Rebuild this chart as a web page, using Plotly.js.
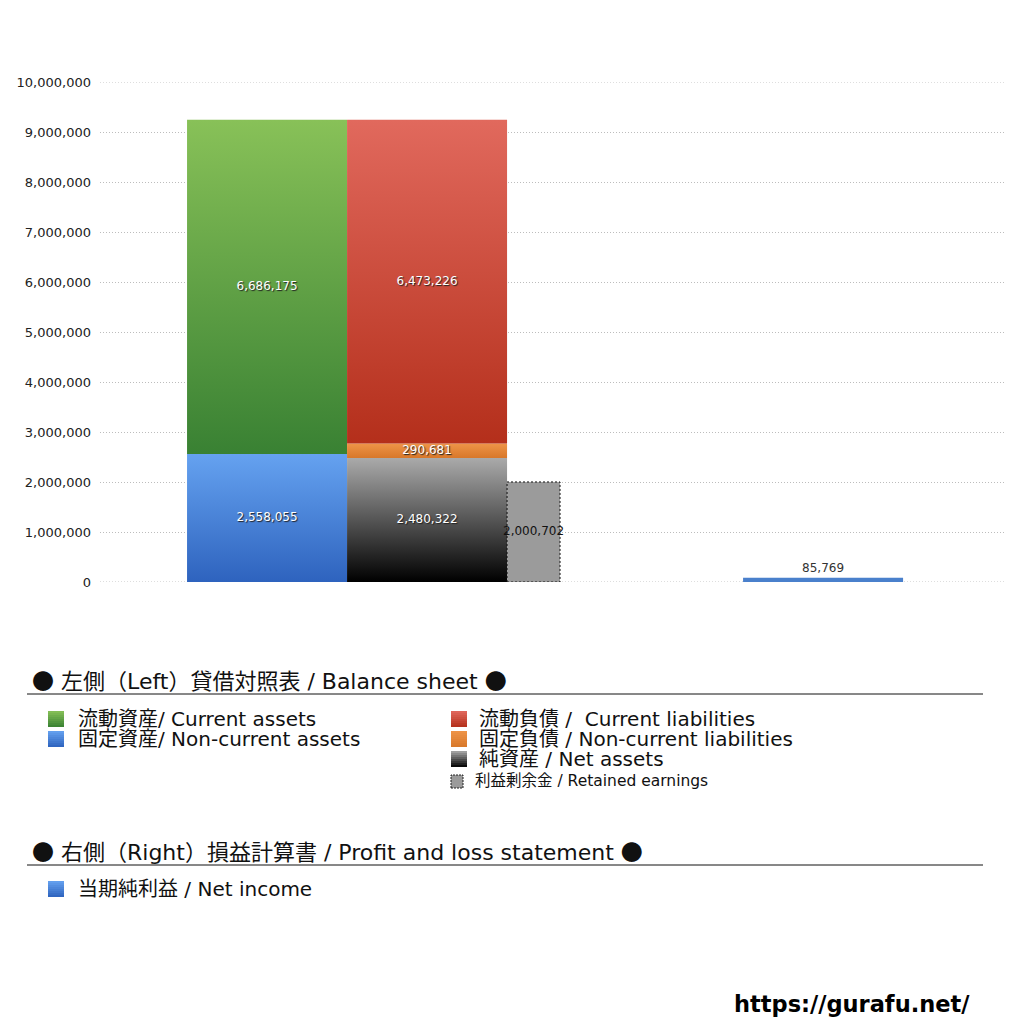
<!DOCTYPE html>
<html>
<head>
<meta charset="utf-8">
<script src="https://cdn.plot.ly/plotly-3.0.1.min.js"></script>
<style>
  html, body { margin: 0; padding: 0; background: #fff; }
  #plot { width: 1024px; height: 1024px; }
</style>
</head>
<body>
<div id="plot"></div>
<script>
// values
const assetNames = ["固定資産/ Non-current assets", "流動資産/ Current assets"];
const assetValues = [2558055, 6686175];

const liabNames = ["純資産 / Net assets", "固定負債 / Non-current liabilities", "流動負債 /  Current liabilities"];
const liabValues = [2480322, 290681, 6473226];

const retainedName = "利益剰余金 / Retained earnings";
const retainedValue = 2000702;

const incomeName = "当期純利益 / Net income";
const incomeValue = 85769;

const yMax = 10000000;

// bar slots on the x axis (one unit = one bar width)
const xRange = [0, 5.656];
const slotAssets = [0.544, 1.544];
const slotLiab = [1.544, 2.544];
const slotRetained = [2.544, 2.875];
const slotIncome = [4.019, 5.019];

// gradients bottom -> top
const assetGrad = [
  ["#2e63be", "#65a2f0"],
  ["#398133", "#88c158"]
];
const liabGrad = [
  ["#000000", "#aaaaaa"],
  ["#d8782a", "#ee9448"],
  ["#b42f1b", "#e1695d"]
];

const fmt = v => v.toLocaleString("en-US");
const font = "'DejaVu Sans', 'Noto Sans CJK JP', sans-serif";
const cjk = "'Noto Sans CJK JP'";

const traces = [];
const labelX = [], labelY = [], labelT = [];

function addStack(slot, names, values, grads) {
  let base = 0;
  values.forEach((v, i) => {
    const top = base + v;
    traces.push({
      type: "scatter",
      mode: "lines",
      name: names[i],
      x: [slot[0], slot[1], slot[1], slot[0], slot[0]],
      y: [base, base, top, top, base],
      fill: "toself",
      line: { width: 0 },
      fillgradient: { type: "vertical", colorscale: [[0, grads[i][0]], [1, grads[i][1]]] },
      hoverinfo: "skip",
      showlegend: false
    });
    labelX.push((slot[0] + slot[1]) / 2);
    labelY.push(base + v / 2);
    labelT.push(fmt(v));
    base = top;
  });
}

addStack(slotAssets, assetNames, assetValues, assetGrad);
addStack(slotLiab, liabNames, liabValues, liabGrad);

traces.push({
  type: "scatter",
  mode: "text",
  x: labelX,
  y: labelY,
  text: labelT,
  textposition: "middle center",
  textfont: { family: font, size: 12, color: "#ffffff", shadow: "1px 1px 1px #222" },
  hoverinfo: "skip",
  showlegend: false
});

// retained earnings, dotted outline
traces.push({
  type: "scatter",
  mode: "lines",
  name: retainedName,
  x: [slotRetained[0], slotRetained[1], slotRetained[1], slotRetained[0], slotRetained[0]],
  y: [0, 0, retainedValue, retainedValue, 0],
  fill: "toself",
  fillcolor: "#9b9b9b",
  line: { color: "#111", width: 1, dash: "2px,2px" },
  hoverinfo: "skip",
  showlegend: false
});
traces.push({
  type: "scatter",
  mode: "text",
  x: [(slotRetained[0] + slotRetained[1]) / 2],
  y: [retainedValue / 2],
  text: [fmt(retainedValue)],
  textfont: { family: font, size: 12, color: "#111" },
  hoverinfo: "skip",
  showlegend: false
});

// net income
traces.push({
  type: "bar",
  name: incomeName,
  x: [(slotIncome[0] + slotIncome[1]) / 2],
  y: [incomeValue],
  width: [slotIncome[1] - slotIncome[0]],
  marker: { color: "#4a80cc", line: { width: 0 } },
  text: [fmt(incomeValue)],
  textposition: "outside",
  cliponaxis: false,
  textfont: { family: font, size: 12, color: "#333" },
  hoverinfo: "skip",
  showlegend: false
});

// pixel -> paper helpers for the legend block below the plot
const L = 100, R = 19, T = 82, B = 442;
const W = 1024 - L - R, H = 1024 - T - B;
const px = x => (x - L) / W;
const py = y => (1024 - B - y) / H;

const shapes = [];
const annotations = [];

// plotly drops the grid lines on the range ends, so draw those two here
[0, yMax].forEach(v => {
  shapes.push({
    type: "line", xref: "paper", yref: "y", x0: 0, x1: 1, y0: v, y1: v,
    line: { color: "#bdbdbd", width: 1, dash: "1px,2px" }, layer: "below"
  });
});

function note(x, y, text, size, extra) {
  annotations.push(Object.assign({
    xref: "paper", yref: "paper", x: px(x - 3), y: py(y),
    xanchor: "left", yanchor: "middle", showarrow: false,
    text: text, font: { family: font, size: size, color: "#111" }
  }, extra || {}));
}
function hex(c) { return [1, 3, 5].map(k => parseInt(c.slice(k, k + 2), 16)); }
// small legend swatch with a vertical shade
function box(x, y, s, grad) {
  const lo = hex(grad[0]), hi = hex(grad[1]);
  const n = 8;
  for (let k = 0; k < n; k++) {
    const t = 1 - (k + 0.5) / n;
    const c = lo.map((v, j) => Math.round(v + (hi[j] - v) * t));
    shapes.push({
      type: "rect", xref: "paper", yref: "paper",
      x0: px(x), x1: px(x + s), y0: py(y + s * (k + 1) / n), y1: py(y + s * k / n),
      fillcolor: "rgb(" + c.join(",") + ")", line: { width: 0 }
    });
  }
}
function rule(y) {
  shapes.push({
    type: "line", xref: "paper", yref: "paper",
    x0: px(27), x1: px(983), y0: py(y), y1: py(y),
    line: { color: "#111", width: 1 }
  });
}
const dot = '<span style="font-family:' + cjk + '">●</span>';

note(33, 679, dot + " 左側（Left）貸借対照表 / Balance sheet " + dot, 22);
rule(694);
box(48, 711, 16, assetGrad[1]);
note(79, 719, assetNames[1], 20);
box(48, 731, 16, assetGrad[0]);
note(79, 739, assetNames[0], 20);
box(451, 711, 16, liabGrad[2]);
note(480, 719, liabNames[2], 20);
box(451, 731, 16, liabGrad[1]);
note(480, 739, liabNames[1], 20);
box(451, 751, 16, liabGrad[0]);
note(480, 759, liabNames[0], 20);
shapes.push({
  type: "rect", xref: "paper", yref: "paper",
  x0: px(451), x1: px(463), y0: py(788), y1: py(775),
  fillcolor: "#9b9b9b", line: { color: "#222", width: 1, dash: "2px,1px" }
});
note(476, 781, retainedName, 15.5);

note(33, 850, dot + " 右側（Right）損益計算書 / Profit and loss statement " + dot, 22);
rule(865);
box(48, 881, 16, assetGrad[0]);
note(79, 889, incomeName, 20);

note(975, 1004, "https://gurafu.net/", 22.5, {
  xanchor: "right",
  font: { family: "'DejaVu Sans', sans-serif", size: 22.5, color: "#000", weight: "bold" }
});

const layout = {
  width: 1024,
  height: 1024,
  margin: { l: L, r: R, t: T, b: B },
  paper_bgcolor: "#ffffff",
  plot_bgcolor: "#ffffff",
  showlegend: false,
  xaxis: {
    range: xRange,
    visible: false,
    fixedrange: true
  },
  yaxis: {
    range: [0, yMax],
    tick0: 0,
    dtick: 1000000,
    tickformat: ",d",
    showgrid: true,
    gridcolor: "#bdbdbd",
    griddash: "1px,2px",
    gridwidth: 1,
    zeroline: false,
    showline: false,
    ticks: "",
    ticklabelstandoff: 8,
    tickfont: { family: font, size: 13, color: "#222" },
    fixedrange: true
  },
  shapes: shapes,
  annotations: annotations
};

Plotly.newPlot("plot", traces, layout, { displayModeBar: false, staticPlot: true });
</script>
</body>
</html>
